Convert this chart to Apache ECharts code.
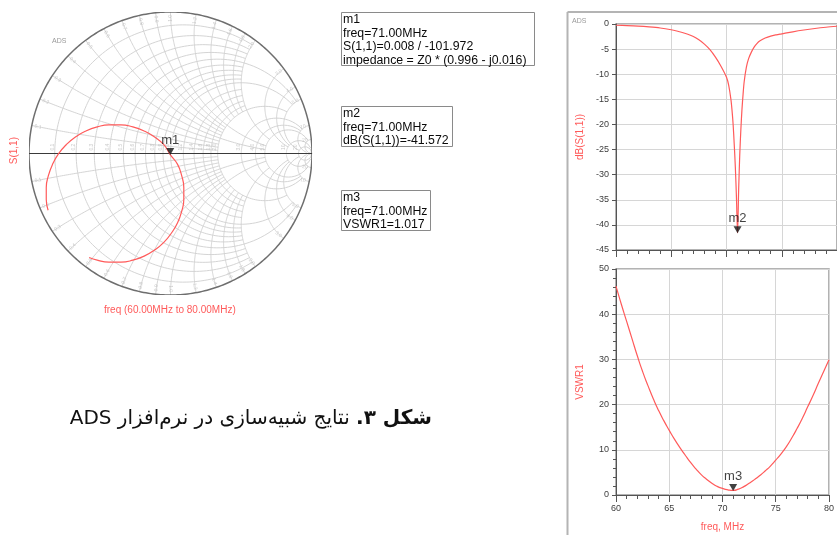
<!DOCTYPE html>
<html>
<head>
<meta charset="utf-8">
<script src="https://cdn.jsdelivr.net/npm/echarts@6/dist/echarts.min.js"></script>
<style>
html,body{margin:0;padding:0;background:#fff}
#c{width:837px;height:535px}
</style>
</head>
<body>
<div id="c"></div>
<script>
// ---- S(1,1) sweep, 60 MHz to 80 MHz ----
const freqDb = [60,61,62,63,64,65,65.5,66,66.5,67,67.5,68,68.5,69,69.5,70,70.2,70.4,70.5,70.6,70.7,70.8,70.9,71,71.1,71.2,71.3,71.4,71.5,71.6,71.8,72,72.25,72.5,72.75,73,73.5,74,74.5,75,76,77,78,79,80];
const s11Db  = [-0.25,-0.32,-0.42,-0.58,-0.8,-1.15,-1.4,-1.7,-2.05,-2.5,-3.15,-4.0,-5.1,-6.6,-8.4,-10.6,-12.2,-15,-17.2,-20,-24,-28.5,-34.5,-41.572,-33,-26,-21,-17,-14,-11.5,-8.6,-6.9,-5.6,-4.6,-3.9,-3.4,-2.8,-2.4,-2.15,-1.95,-1.55,-1.2,-0.9,-0.65,-0.45];

const freqVswr = [60,60.5,61,61.5,62,62.5,63,63.5,64,64.5,65,65.5,66,66.5,67,67.5,68,68.5,69,69.5,70,70.5,71,71.5,72,72.5,73,73.5,74,74.5,75,75.5,76,76.5,77,77.5,78,78.5,79,79.5,80];
const vswr     = [46.2,42.2,38.4,34.6,30.8,27.3,24.2,21.3,18.7,16.4,14.3,12.3,10.5,8.8,7.2,5.8,4.5,3.5,2.6,1.9,1.45,1.15,1.017,1.3,1.85,2.6,3.4,4.3,5.3,6.4,7.7,9.1,10.7,12.6,14.7,17.0,19.5,22.0,24.7,27.3,29.9];

// reflection coefficient trace (real / imaginary part)
const s11Re = [-0.865,-0.878,-0.878,-0.863,-0.834,-0.792,-0.737,-0.672,-0.598,-0.518,-0.435,-0.350,-0.266,-0.186,-0.112,-0.047,-0.002,0.050,0.079,0.094,0.094,0.079,0.050,0.007,-0.047,-0.112,-0.186,-0.266,-0.350,-0.435,-0.518,-0.575];
const s11Im = [-0.401,-0.325,-0.240,-0.157,-0.077,-0.003,0.062,0.117,0.159,0.188,0.203,0.203,0.188,0.159,0.117,0.062,-0.008,-0.077,-0.157,-0.240,-0.325,-0.409,-0.489,-0.562,-0.628,-0.682,-0.725,-0.754,-0.768,-0.768,-0.754,-0.735];

// markers at 71 MHz
const markerFreq = 71.0;
const m1Gamma = [-0.0017, -0.0078];
const m2Db = -41.572;
const m3Vswr = 1.017;

const m1Lines = ['m1','freq=71.00MHz','S(1,1)=0.008 / -101.972','impedance = Z0 * (0.996 - j0.016)'];
const m2Lines = ['m2','freq=71.00MHz','dB(S(1,1))=-41.572'];
const m3Lines = ['m3','freq=71.00MHz','VSWR1=1.017'];

// Smith chart grid: [value, extent of the arc]
const rCircles = [[0.1,2],[0.2,2],[0.3,2],[0.4,2],[0.5,5],[0.6,2],[0.7,2],[0.8,2],[0.9,2],[1.0,5],[1.2,2],[1.4,2],[1.6,2],[1.8,2],[2.0,5],[3,10],[4,10],[5,20],[10,50],[20,Infinity]];
const xArcs    = [[0.1,2],[0.2,2],[0.3,2],[0.4,2],[0.5,5],[0.6,2],[0.7,2],[0.8,2],[0.9,2],[1.0,5],[1.2,2],[1.4,2],[1.6,2],[1.8,2],[2.0,5],[3,10],[4,10],[5,20],[10,50],[20,Infinity]];
const rLabels = ['0.1','0.2','0.3','0.4','0.5','0.6','0.7','0.8','0.9','1.0','1.2','1.4','1.6','1.8','2.0','3.0','4.0','5.0','10','20'];

const RED = '#ff5a5a';
const FONT = 'Liberation Sans, Arial, sans-serif';

function gamma(r, x) {
  const d = (r + 1) * (r + 1) + x * x;
  return [(r * r + x * x - 1) / d, 2 * x / d];
}
function atanLim(v) { return v === Infinity ? Math.PI / 2 - 1e-4 : Math.atan(v); }

const gridArcs = [];
rCircles.forEach(([r, xm]) => {
  const a = atanLim(xm), pts = [];
  for (let i = 0; i <= 160; i++) { const p = -a + 2 * a * i / 160; pts.push(gamma(r, Math.tan(p))); }
  gridArcs.push({ coords: pts });
});
xArcs.forEach(([x, rm]) => {
  const a = atanLim(rm);
  [x, -x].forEach(xx => {
    const pts = [];
    for (let i = 0; i <= 120; i++) { const p = a * i / 120; pts.push(gamma(Math.tan(p), xx)); }
    gridArcs.push({ coords: pts });
  });
});
const outer = [];
for (let i = 0; i <= 360; i++) { const t = i * Math.PI / 180; outer.push([Math.cos(t), Math.sin(t)]); }

// small scale labels along the real axis and the rim
const scaleLabels = [];
rCircles.forEach(([r], i) => {
  const g = gamma(r, 0);
  scaleLabels.push({ value: [g[0] - 0.018, 0.045], label: { formatter: rLabels[i], rotate: 90 } });
});
xArcs.forEach(([x], i) => {
  [x, -x].forEach(xx => {
    const g = gamma(0, xx);
    let deg = Math.atan2(g[1], g[0]) * 180 / Math.PI;
    if (deg > 90) deg -= 180; if (deg < -90) deg += 180;
    scaleLabels.push({ value: [g[0] * 0.955, g[1] * 0.955], label: { formatter: rLabels[i], rotate: deg } });
  });
});

const trace = s11Re.map((v, i) => [v, s11Im[i]]);
const dbData = freqDb.map((f, i) => [f, s11Db[i]]);
const vswrData = freqVswr.map((f, i) => [f, vswr[i]]);

function markerBox(lines, left, top, w, h) {
  return [
    { type: 'rect', left: left, top: top, shape: { width: w, height: h }, style: { fill: '#fff', stroke: '#8a8a8a', lineWidth: 1 }, silent: true },
    { type: 'text', left: left + 2, top: top + 1, style: { text: lines.join('\n'), font: '12.3px ' + FONT, lineHeight: 13.5, fill: '#0a0a0a' }, silent: true }
  ];
}

const chart = echarts.init(document.getElementById('c'), null, { renderer: 'canvas' });

const valueAxisCommon = {
  type: 'value',
  axisLine: { show: true, onZero: false, lineStyle: { color: '#555', width: 1 } },
  axisTick: { show: true, length: 4, lineStyle: { color: '#555' } },
  splitLine: { show: true, lineStyle: { color: '#d6d6d6', width: 1 } },
  axisLabel: { color: '#3c3c3c', fontSize: 9, fontFamily: FONT, margin: 7 }
};

chart.setOption({
  animation: false,
  grid: [
    { left: 29, top: 12, width: 283, height: 283, show: false },
    { left: 616, top: 24, width: 222, height: 226, show: true, borderColor: '#9a9a9a', borderWidth: 1.5, backgroundColor: 'transparent' },
    { left: 616, top: 269, width: 222, height: 226, show: true, borderColor: '#9a9a9a', borderWidth: 1.5, backgroundColor: 'transparent' }
  ],
  xAxis: [
    { type: 'value', gridIndex: 0, min: -1, max: 1, show: false },
    Object.assign({}, valueAxisCommon, {
      gridIndex: 1, min: 60, max: 80, interval: 5,
      axisTick: { show: true, length: 7, lineStyle: { color: '#555' } },
      minorTick: { show: true, splitNumber: 5, length: 4, lineStyle: { color: '#555' } },
      axisLabel: { show: false }
    }),
    Object.assign({}, valueAxisCommon, {
      gridIndex: 2, min: 60, max: 80, interval: 5,
      axisTick: { show: true, length: 7, lineStyle: { color: '#555' } },
      minorTick: { show: true, splitNumber: 5, length: 4, lineStyle: { color: '#555' } },
      axisLabel: { color: '#3c3c3c', fontSize: 9, fontFamily: FONT, margin: 9, showMaxLabel: true, hideOverlap: false },
      name: 'freq, MHz', nameLocation: 'middle', nameGap: 27,
      nameTextStyle: { color: RED, fontSize: 10, fontFamily: FONT }
    })
  ],
  yAxis: [
    { type: 'value', gridIndex: 0, min: -1, max: 1, show: false },
    Object.assign({}, valueAxisCommon, {
      gridIndex: 1, min: -45, max: 0, interval: 5,
      name: 'dB(S(1,1))', nameLocation: 'middle', nameGap: 31, nameRotate: 90,
      nameTextStyle: { color: RED, fontSize: 10, fontFamily: FONT }
    }),
    Object.assign({}, valueAxisCommon, {
      gridIndex: 2, min: 0, max: 50, interval: 10,
      minorTick: { show: true, splitNumber: 5, length: 3, lineStyle: { color: '#555' } },
      name: 'VSWR1', nameLocation: 'middle', nameGap: 31, nameRotate: 90,
      nameTextStyle: { color: RED, fontSize: 10, fontFamily: FONT }
    })
  ],
  series: [
    {
      type: 'lines', coordinateSystem: 'cartesian2d', xAxisIndex: 0, yAxisIndex: 0,
      polyline: true, silent: true, z: 1,
      lineStyle: { color: '#cfcfcf', width: 0.9, opacity: 1 },
      data: gridArcs
    },
    {
      type: 'scatter', xAxisIndex: 0, yAxisIndex: 0, symbolSize: 0, silent: true, z: 1,
      label: { show: true, position: 'inside', fontSize: 5, color: '#bdbdbd', fontFamily: FONT },
      data: scaleLabels
    },
    {
      type: 'lines', coordinateSystem: 'cartesian2d', xAxisIndex: 0, yAxisIndex: 0,
      polyline: true, silent: true, z: 2,
      data: [
        { coords: outer, lineStyle: { color: '#6e6e6e', width: 1.5, opacity: 1 } },
        { coords: [[-1, 0], [1, 0]], lineStyle: { color: '#3a3a3a', width: 1.2, opacity: 1 } }
      ]
    },
    {
      type: 'line', xAxisIndex: 0, yAxisIndex: 0, data: trace, smooth: 0.5,
      showSymbol: false, lineStyle: { color: RED, width: 1.2 }, z: 3
    },
    {
      type: 'scatter', xAxisIndex: 0, yAxisIndex: 0, data: [m1Gamma], z: 4,
      symbol: 'triangle', symbolRotate: 180, symbolSize: [8, 7], symbolOffset: [0, -3],
      itemStyle: { color: '#111' },
      label: { show: true, formatter: 'm1', position: 'top', distance: 1, fontSize: 13, color: '#111', fontFamily: FONT }
    },
    {
      type: 'line', xAxisIndex: 1, yAxisIndex: 1, data: dbData, smooth: 0.3,
      showSymbol: false, lineStyle: { color: RED, width: 1.2 }, z: 3
    },
    {
      type: 'scatter', xAxisIndex: 1, yAxisIndex: 1, data: [[markerFreq, m2Db]], z: 4,
      symbol: 'triangle', symbolRotate: 180, symbolSize: [8, 7], symbolOffset: [0, -3],
      itemStyle: { color: '#111' },
      label: { show: true, formatter: 'm2', position: 'top', distance: 1, fontSize: 13, color: '#111', fontFamily: FONT }
    },
    {
      type: 'line', xAxisIndex: 2, yAxisIndex: 2, data: vswrData, smooth: 0.6,
      showSymbol: false, lineStyle: { color: RED, width: 1.2 }, z: 3
    },
    {
      type: 'scatter', xAxisIndex: 2, yAxisIndex: 2, data: [[markerFreq, m3Vswr]], z: 4,
      symbol: 'triangle', symbolRotate: 180, symbolSize: [8, 7], symbolOffset: [0, -3],
      itemStyle: { color: '#111' },
      label: { show: true, formatter: 'm3', position: 'top', distance: 1, fontSize: 13, color: '#111', fontFamily: FONT }
    }
  ],
  graphic: [
    // panel frame of the rectangular plots
    { type: 'line', shape: { x1: 567.5, y1: 12, x2: 567.5, y2: 535 }, style: { stroke: '#b4b4b4', lineWidth: 2 }, silent: true },
    { type: 'line', shape: { x1: 567.5, y1: 12, x2: 837, y2: 12 }, style: { stroke: '#b4b4b4', lineWidth: 2 }, silent: true },
    { type: 'text', left: 572, top: 18, style: { text: 'ADS', font: '7px ' + FONT, fill: '#9a9a9a' }, silent: true },
    { type: 'text', left: 52, top: 38, style: { text: 'ADS', font: '7px ' + FONT, fill: '#9a9a9a' }, silent: true },
    { type: 'text', left: 9, top: 137, rotation: Math.PI / 2, originX: 0, originY: 0,
      style: { text: 'S(1,1)', font: '10px ' + FONT, fill: RED }, silent: true },
    { type: 'text', left: 104, top: 305, style: { text: 'freq (60.00MHz to 80.00MHz)', font: '10px ' + FONT, fill: RED }, silent: true },
    ...markerBox(m1Lines, 341, 12, 193, 53),
    ...markerBox(m2Lines, 341, 106, 111, 40),
    ...markerBox(m3Lines, 341, 190, 89, 40),
    {
      type: 'text', right: 405, top: 409,
      style: {
        text: '{r|\u202Bنتایج شبیه\u200Cسازی در نرم\u200Cافزار ADS\u202C }{b|\u202Bشکل ۳.\u202C}',
        rich: {
          r: { fontSize: 20, fontFamily: 'DejaVu Sans', fill: '#111', color: '#111' },
          b: { fontSize: 20, fontFamily: 'DejaVu Sans', fontWeight: 'bold', fill: '#111', color: '#111' }
        }
      },
      silent: true
    }
  ]
});
</script>
</body>
</html>
